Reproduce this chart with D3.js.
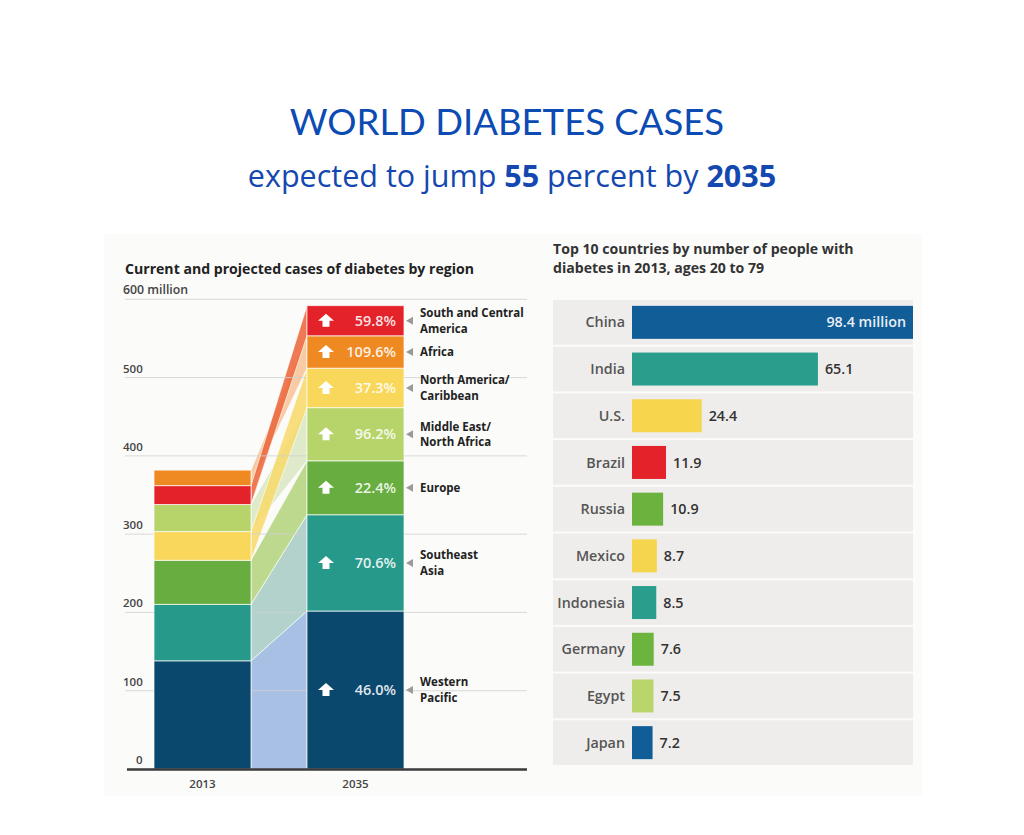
<!DOCTYPE html>
<html>
<head>
<meta charset="utf-8">
<script src="https://cdn.jsdelivr.net/npm/d3@7"></script>
<style>
  html, body { margin: 0; padding: 0; background: #ffffff; }
  svg { display: block; }
</style>
</head>
<body>
<svg id="chart" width="1024" height="835"></svg>
<script>
// ---------- DATA ----------
const years = ["2013", "2035"];
const regions = ["Western Pacific", "Southeast Asia", "Europe", "Middle East/North Africa", "North America/Caribbean", "Africa", "South and Central America"];
const regionLabelLines = [["Western", "Pacific"], ["Southeast", "Asia"], ["Europe"], ["Middle East/", "North Africa"], ["North America/", "Caribbean"], ["Africa"], ["South and Central", "America"]];
const cases2013 = [138.2, 72.1, 56.3, 34.6, 36.7, 19.8, 24.1];
const cases2035 = [201.8, 123.0, 68.9, 67.9, 50.4, 41.4, 38.5];
const order2013 = ["Western Pacific", "Southeast Asia", "Europe", "North America/Caribbean", "Middle East/North Africa", "South and Central America", "Africa"];
const order2035 = ["Western Pacific", "Southeast Asia", "Europe", "Middle East/North Africa", "North America/Caribbean", "Africa", "South and Central America"];
const pctLabels = ["46.0%", "70.6%", "22.4%", "96.2%", "37.3%", "109.6%", "59.8%"];
const yTicks = [0, 100, 200, 300, 400, 500, 600];

const countries = ["China", "India", "U.S.", "Brazil", "Russia", "Mexico", "Indonesia", "Germany", "Egypt", "Japan"];
const countryValues = [98.4, 65.1, 24.4, 11.9, 10.9, 8.7, 8.5, 7.6, 7.5, 7.2];
const countryValueLabels = ["98.4 million", "65.1", "24.4", "11.9", "10.9", "8.7", "8.5", "7.6", "7.5", "7.2"];

// ---------- STYLES ----------
const regionColor = {
  "Western Pacific": "#0b486e",
  "Southeast Asia": "#27998b",
  "Europe": "#68ad3f",
  "Middle East/North Africa": "#b6d46a",
  "North America/Caribbean": "#f8d75a",
  "Africa": "#ef8a23",
  "South and Central America": "#e4222a"
};
const bandColor = {
  "Western Pacific": "#9cb7df",
  "Southeast Asia": "#a9ccc5",
  "Europe": "#b3d47e",
  "Middle East/North Africa": "#d9e7c2",
  "North America/Caribbean": "#f7da6c",
  "Africa": "#f6c496",
  "South and Central America": "#ec673b"
};
const countryColor = ["#115d97", "#2a9d8d", "#f7d54c", "#e3222a", "#6cb23f", "#f6d54e", "#2a9d8d", "#6bb43e", "#b8d66c", "#115d97"];

const svg = d3.select("#chart");
const FONT = "'Open Sans', 'Noto Sans', sans-serif";

// ---------- HEADER ----------
svg.append("text")
  .attr("x", 507).attr("y", 135)
  .attr("text-anchor", "middle")
  .attr("font-family", "Lato, 'Open Sans', sans-serif")
  .attr("font-size", 36.5)
  .attr("fill", "#0b4bb3")
  .text("WORLD DIABETES CASES");

const sub = svg.append("text")
  .attr("x", 512).attr("y", 187)
  .attr("text-anchor", "middle")
  .attr("font-family", FONT)
  .attr("font-size", 30.5)
  .attr("fill", "#1448b0");
sub.append("tspan").text("expected to jump ");
sub.append("tspan").attr("font-weight", 700).text("55");
sub.append("tspan").text(" percent by ");
sub.append("tspan").attr("font-weight", 700).text("2035");

// faint chart background
svg.append("rect").attr("x", 104).attr("y", 234).attr("width", 818).attr("height", 562).attr("fill", "#fbfbfa");

// ---------- LEFT CHART ----------
const y = d3.scaleLinear().domain([0, 600]).range([769, 299.3]);
const x = d3.scaleBand().domain(years).range([154, 404]).paddingInner(0.366).paddingOuter(0);
const bw = x.bandwidth();

svg.append("text").attr("x", 125).attr("y", 274)
  .attr("font-family", FONT).attr("font-size", 14.1).attr("font-weight", 700).attr("fill", "#222")
  .text("Current and projected cases of diabetes by region");

function stackOf(order, values) {
  const out = {};
  let acc = 0;
  order.forEach(r => {
    const v = values[regions.indexOf(r)];
    out[r] = [acc, acc + v];
    acc += v;
  });
  return out;
}
const s13 = stackOf(order2013, cases2013);
const s35 = stackOf(order2035, cases2035);

// connecting bands
const x0 = x("2013") + bw, x1 = x("2035");
const gBands = svg.append("g");
order2035.forEach(r => {
  const a = s13[r], b = s35[r];
  gBands.append("path")
    .attr("d", `M${x0},${y(a[0])} L${x1},${y(b[0])} L${x1},${y(b[1])} L${x0},${y(a[1])} Z`)
    .attr("fill", bandColor[r])
    .attr("fill-opacity", 0.88)
    .attr("stroke", "#ffffff").attr("stroke-width", 0.8).attr("stroke-opacity", 0.8);
});

// gridlines
const gGrid = svg.append("g");
yTicks.filter(t => t > 0).forEach(t => {
  gGrid.append("line").attr("x1", 125).attr("x2", 527).attr("y1", y(t)).attr("y2", y(t))
    .attr("stroke", "#cfcfcf").attr("stroke-width", 1).attr("stroke-opacity", 0.8);
});
yTicks.forEach(t => {
  gGrid.append("text").attr("x", t === 0 ? 136 : 123).attr("y", y(t) - 5)
    .attr("font-family", FONT).attr("font-size", t === 600 ? 12.3 : 11.5).attr("font-weight", 600).attr("fill", "#444")
    .text(t === 600 ? "600 million" : t);
});

// bars
const gBars = svg.append("g");
[[ "2013", s13, order2013 ], [ "2035", s35, order2035 ]].forEach(([yr, st, ord]) => {
  ord.forEach(r => {
    gBars.append("rect")
      .attr("x", x(yr)).attr("width", bw)
      .attr("y", y(st[r][1])).attr("height", y(st[r][0]) - y(st[r][1]))
      .attr("fill", regionColor[r])
      .attr("stroke", "#ffffff").attr("stroke-width", 1).attr("stroke-opacity", 0.7);
  });
});

// baseline
svg.append("line").attr("x1", 127).attr("x2", 527).attr("y1", 769.5).attr("y2", 769.5)
  .attr("stroke", "#3a3a3a").attr("stroke-width", 2.5);

// year labels
years.forEach(yr => {
  svg.append("text").attr("x", x(yr) + bw / 2).attr("y", 788)
    .attr("text-anchor", "middle").attr("font-family", FONT).attr("font-size", 11.5).attr("font-weight", 600).attr("fill", "#444")
    .text(yr);
});

// percent labels, arrows and region labels
regions.forEach((r, i) => {
  const cy = y((s35[r][0] + s35[r][1]) / 2);
  const ax = x("2035") + 19;
  svg.append("path")
    .attr("d", `M${ax},${cy - 7} L${ax + 8},${cy} L${ax + 3.5},${cy} L${ax + 3.5},${cy + 6} L${ax - 3.5},${cy + 6} L${ax - 3.5},${cy} L${ax - 8},${cy} Z`)
    .attr("fill", "#ffffff");
  svg.append("text").attr("x", x("2035") + bw - 8).attr("y", cy).attr("dy", "0.36em")
    .attr("text-anchor", "end").attr("font-family", FONT).attr("font-size", 14.5).attr("font-weight", 600)
    .attr("fill", "#ffffff").attr("fill-opacity", 0.88)
    .text(pctLabels[i]);
  const tx = x("2035") + bw + 2;
  svg.append("path").attr("d", `M${tx},${cy} L${tx + 7},${cy - 4} L${tx + 7},${cy + 4} Z`).attr("fill", "#9a9a9a");
  const lines = regionLabelLines[i];
  lines.forEach((ln, k) => {
    svg.append("text").attr("font-family", FONT).attr("font-size", 11.5).attr("font-weight", 700).attr("fill", "#222")
      .attr("x", tx + 14)
      .attr("y", cy + (k - (lines.length - 1) / 2) * 15.5).attr("dy", "0.36em").text(ln);
  });
});

// ---------- RIGHT CHART ----------
svg.append("text").attr("font-family", FONT).attr("font-size", 14.1).attr("font-weight", 700).attr("fill", "#333")
  .selectAll("tspan").data(["Top 10 countries by number of people with", "diabetes in 2013, ages 20 to 79"]).join("tspan")
  .attr("x", 553).attr("y", (d, i) => 254 + i * 19).text(d => d);

const rowScale = d3.scaleBand().domain(countries).range([300, 767]).paddingInner(0).paddingOuter(0);
const xc = d3.scaleLinear().domain([0, 98.4]).range([632, 913]);
const step = rowScale.step();
const barH = 33;

const gRows = svg.append("g");
countries.forEach((c, i) => {
  const top = rowScale(c);
  gRows.append("rect").attr("x", 553).attr("y", top).attr("width", 360).attr("height", step - 2)
    .attr("fill", "#efedeb");
  const cy = top + (step - 2) / 2;
  gRows.append("rect").attr("x", xc(0)).attr("y", cy - barH / 2).attr("width", xc(countryValues[i]) - xc(0)).attr("height", barH)
    .attr("fill", countryColor[i]);
  gRows.append("text").attr("x", 625).attr("y", cy).attr("dy", "0.36em").attr("text-anchor", "end")
    .attr("font-family", FONT).attr("font-size", 14.3).attr("font-weight", 600).attr("fill", "#555")
    .text(c);
  const inside = i === 0;
  gRows.append("text")
    .attr("x", inside ? xc(countryValues[i]) - 7 : xc(countryValues[i]) + 7)
    .attr("y", cy).attr("dy", "0.36em")
    .attr("text-anchor", inside ? "end" : "start")
    .attr("font-family", FONT).attr("font-size", 14.3).attr("font-weight", 600)
    .attr("fill", inside ? "#e8eef5" : "#333")
    .text(countryValueLabels[i]);
});
</script>
</body>
</html>
